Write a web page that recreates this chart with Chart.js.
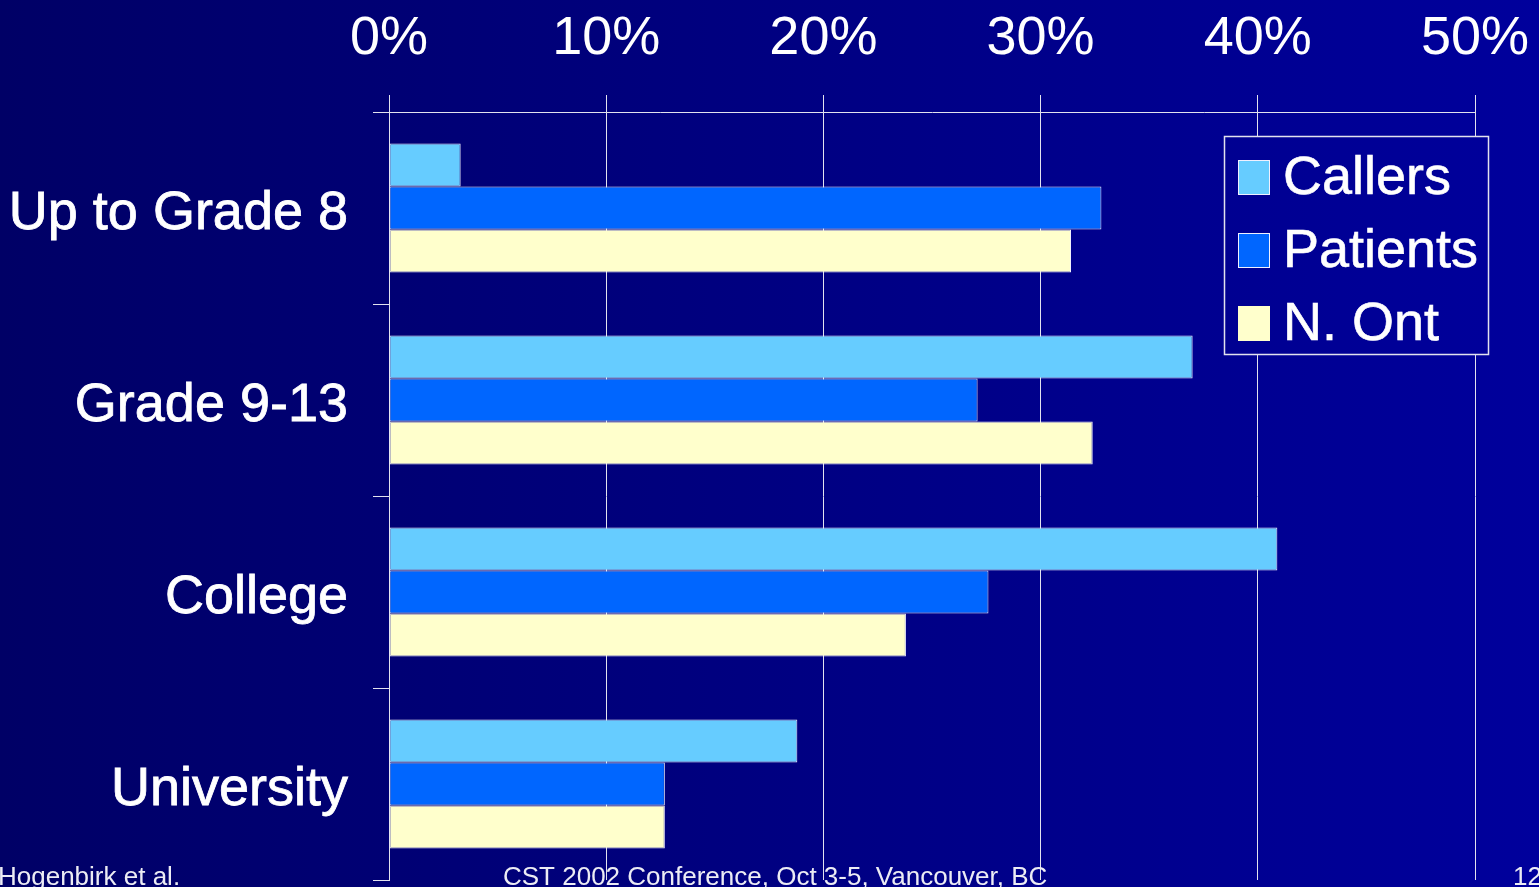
<!DOCTYPE html>
<html>
<head>
<meta charset="utf-8">
<title>Education level: Callers, Patients, N. Ont</title>
<script src="https://cdn.jsdelivr.net/npm/chart.js@4/dist/chart.umd.min.js"></script>
<style>
  html, body { margin: 0; padding: 0; background: #000066; overflow: hidden; }
  #wrap { width: 1539px; height: 887px; }
</style>
</head>
<body>
<div id="wrap"><canvas id="chart" width="1539" height="887"></canvas></div>
<script>
// Education categories (one row of bars each)
const categories = ['Up to Grade 8', 'Grade 9-13', 'College', 'University'];

// Percent of each group by education level
const seriesNames = ['Callers', 'Patients', 'N. Ont'];
const callers  = [3.3, 37.0, 40.9, 18.8];
const patients = [32.8, 27.1, 27.6, 12.7];
const nOnt     = [31.4, 32.4, 23.8, 12.7];

// Percent axis
const xTicks = [0, 10, 20, 30, 40, 50];

// Footer line
const footerLeft = 'Hogenbirk et al.';
const footerCenter = 'CST 2002 Conference, Oct 3-5, Vancouver, BC';
const footerRight = '12';

const colors = ['#66CCFF', '#0066FF', '#FFFFCC'];
const lineColor = '#e2e2ee';
const FONT = '"Liberation Sans", Arial, sans-serif';

let bgGradient = null;
function getGradient(chart) {
  if (!bgGradient) {
    const ctx = chart.ctx;
    bgGradient = ctx.createLinearGradient(0, 0, chart.width, 0);
    bgGradient.addColorStop(0, '#000066');
    bgGradient.addColorStop(1, '#00009c');
  }
  return bgGradient;
}

// Scales keep a fixed size and do not reserve room for label overhang
function noOverhang(scale) {
  scale.paddingLeft = 0;
  scale.paddingRight = 0;
  scale.paddingTop = 0;
  scale.paddingBottom = 0;
}

// Slide background
const backgroundPlugin = {
  id: 'slideBackground',
  beforeDraw(chart) {
    const ctx = chart.ctx;
    ctx.save();
    ctx.fillStyle = getGradient(chart);
    ctx.fillRect(0, 0, chart.width, chart.height);
    ctx.restore();
  }
};

// Boxed legend inside the plot, built from the datasets
const boxedLegend = {
  id: 'boxedLegend',
  afterDatasetsDraw(chart) {
    const ctx = chart.ctx;
    const box = { x: 1224, y: 136, w: 264, h: 218 };
    ctx.save();
    ctx.fillStyle = getGradient(chart);
    ctx.fillRect(box.x, box.y, box.w, box.h);
    ctx.strokeStyle = lineColor;
    ctx.lineWidth = 1.5;
    ctx.strokeRect(box.x + 0.5, box.y + 0.5, box.w, box.h);
    ctx.font = '54px ' + FONT;
    ctx.textBaseline = 'middle';
    ctx.textAlign = 'left';
    chart.data.datasets.forEach((ds, i) => {
      const cy = 177.5 + i * 73;
      ctx.fillStyle = ds.backgroundColor;
      ctx.fillRect(1238, cy - 17.5, 32, 35);
      if (i < 2) {
        ctx.strokeStyle = '#f0f0ff';
        ctx.lineWidth = 1;
        ctx.strokeRect(1238.5, cy - 17, 31, 34);
      }
      ctx.fillStyle = '#ffffff';
      ctx.strokeStyle = '#ffffff';
      ctx.lineWidth = 0.6;
      ctx.fillText(ds.label, 1283, cy + 2);
      ctx.strokeText(ds.label, 1283, cy + 2);
    });
    ctx.restore();
  }
};

// Footer text across the bottom edge
const footerPlugin = {
  id: 'footer',
  afterDraw(chart) {
    const ctx = chart.ctx;
    ctx.save();
    ctx.font = '26px ' + FONT;
    ctx.fillStyle = '#ececf4';
    ctx.textBaseline = 'alphabetic';
    ctx.textAlign = 'left';
    ctx.fillText(footerLeft, -2, 885);
    ctx.fillText(footerCenter, 503, 885);
    ctx.fillText(footerRight, 1513, 885);
    ctx.restore();
  }
};

const datasets = [callers, patients, nOnt].map((values, i) => ({
  label: seriesNames[i],
  data: values,
  backgroundColor: colors[i],
  borderColor: '#f2f2fc',
  borderWidth: 1,
  borderSkipped: false,
  categoryPercentage: 0.672,
  barPercentage: 1.0
}));

new Chart(document.getElementById('chart'), {
  type: 'bar',
  data: { labels: categories, datasets },
  options: {
    indexAxis: 'y',
    responsive: false,
    animation: false,
    devicePixelRatio: 1,
    layout: { padding: { left: 0, right: 64, top: 0, bottom: 7 } },
    plugins: {
      legend: { display: false },
      tooltip: { enabled: false }
    },
    scales: {
      x: {
        position: 'top',
        min: xTicks[0],
        max: xTicks[xTicks.length - 1],
        afterBuildTicks(scale) {
          scale.ticks = xTicks.map(v => ({ value: v }));
        },
        afterFit(scale) { scale.height = 112; noOverhang(scale); },
        ticks: {
          color: '#ffffff',
          font: { family: FONT, size: 54 },
          padding: 23,
          maxRotation: 0,
          callback: v => v + '%'
        },
        grid: {
          color: lineColor,
          lineWidth: 1,
          tickLength: 17,
          drawOnChartArea: true
        },
        border: { display: true, color: lineColor, width: 1 }
      },
      y: {
        afterFit(scale) { scale.width = 389; noOverhang(scale); },
        ticks: {
          color: '#ffffff',
          font: { family: FONT, size: 54 },
          padding: 25,
          labelOffset: 6,
          textStrokeColor: '#ffffff',
          textStrokeWidth: 0.8
        },
        grid: {
          offset: true,
          color: lineColor,
          lineWidth: 1,
          tickLength: 16,
          drawOnChartArea: false
        },
        border: { display: true, color: lineColor, width: 1 }
      }
    }
  },
  plugins: [backgroundPlugin, boxedLegend, footerPlugin]
});
</script>
</body>
</html>
